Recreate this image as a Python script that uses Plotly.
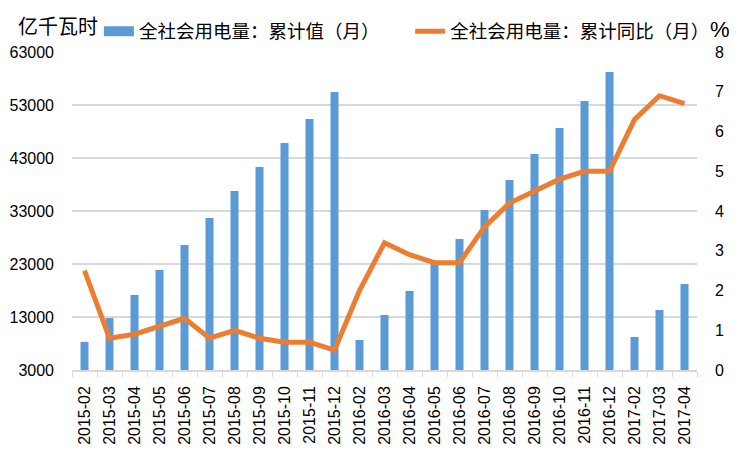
import plotly.graph_objects as go

months = ["2015-02","2015-03","2015-04","2015-05","2015-06","2015-07","2015-08","2015-09",
          "2015-10","2015-11","2015-12","2016-02","2016-03","2016-04","2016-05","2016-06",
          "2016-07","2016-08","2016-09","2016-10","2016-11","2016-12","2017-02","2017-03","2017-04"]
cum_value = [8300, 12800, 17150, 21870, 26590, 31680, 36770, 41300, 45830, 50360, 55450,
             8660, 13380, 17900, 23000, 27720, 33190, 38850, 43760, 48660, 53760, 59230,
             9230, 14320, 19230]
yoy = [2.5, 0.8, 0.9, 1.1, 1.3, 0.8, 1.0, 0.8, 0.7, 0.7, 0.5,
       2.0, 3.2, 2.9, 2.7, 2.7, 3.6, 4.2, 4.5, 4.8, 5.0, 5.0,
       6.3, 6.9, 6.7]

name_bar = "全社会用电量：累计值（月）"
name_line = "全社会用电量：累计同比（月）"
BLUE = "#5B9BD5"
ORANGE = "#ED7D31"
CJK = "Noto Sans CJK SC"

fig = go.Figure()
fig.add_trace(go.Bar(x=months, y=cum_value, name=name_bar, showlegend=False,
                     marker=dict(color=BLUE, line=dict(width=0)), yaxis="y"))
# legend proxy drawn as a wide flat rectangle like the original legend key
fig.add_trace(go.Scatter(x=[None], y=[None], name=name_bar, mode="lines",
                         line=dict(color=BLUE, width=11), legend="legend", yaxis="y"))
fig.add_trace(go.Scatter(x=months, y=yoy, name=name_line, mode="lines",
                         line=dict(color=ORANGE, width=5), yaxis="y2", legend="legend2"))

legend_common = dict(orientation="h", yanchor="middle", xanchor="left",
                     font=dict(family=CJK, size=18.5, color="#000"),
                     bgcolor="rgba(0,0,0,0)", borderwidth=0)

fig.update_layout(
    width=751, height=450,
    margin=dict(l=72, r=54, t=52, b=80, autoexpand=False),
    paper_bgcolor="white", plot_bgcolor="white",
    bargap=0.68,
    showlegend=True,
    legend=dict(x=0.043, y=1.064, **legend_common),
    legend2=dict(x=0.541, y=1.064, **legend_common),
    font=dict(family="Liberation Sans", color="#000"),
    xaxis=dict(type="category", range=[-0.5, len(months) - 0.5], tickangle=-90,
               tickfont=dict(family="Liberation Sans", size=16, color="#000"),
               showline=True, linecolor="#d9d9d9", linewidth=1.5,
               ticks="outside", tickson="boundaries", ticklen=5, tickcolor="#d9d9d9",
               ticklabelstandoff=8, showgrid=False, automargin=False),
    yaxis=dict(range=[3000, 63000], tick0=3000, dtick=10000, tickformat="d",
               showgrid=True, gridcolor="#d9d9d9", gridwidth=1.5, zeroline=False,
               tickfont=dict(family="Liberation Sans", size=16, color="#000"),
               ticks="", ticklabelstandoff=17, automargin=False),
    yaxis2=dict(range=[0, 8], dtick=1, overlaying="y", side="right", showgrid=False,
                zeroline=False, tickfont=dict(family="Liberation Sans", size=16, color="#000"),
                ticks="", ticklabelstandoff=17, automargin=False),
)
fig.add_annotation(text="亿千瓦时", xref="paper", yref="paper", x=-0.09, y=1.082,
                   xanchor="left", yanchor="middle", showarrow=False,
                   font=dict(family=CJK, size=20, color="#000"))
fig.add_annotation(text="%", xref="paper", yref="paper", x=1.018, y=1.072,
                   xanchor="left", yanchor="middle", showarrow=False,
                   font=dict(family="Liberation Sans", size=22, color="#000"))

fig.write_html("out.html")
